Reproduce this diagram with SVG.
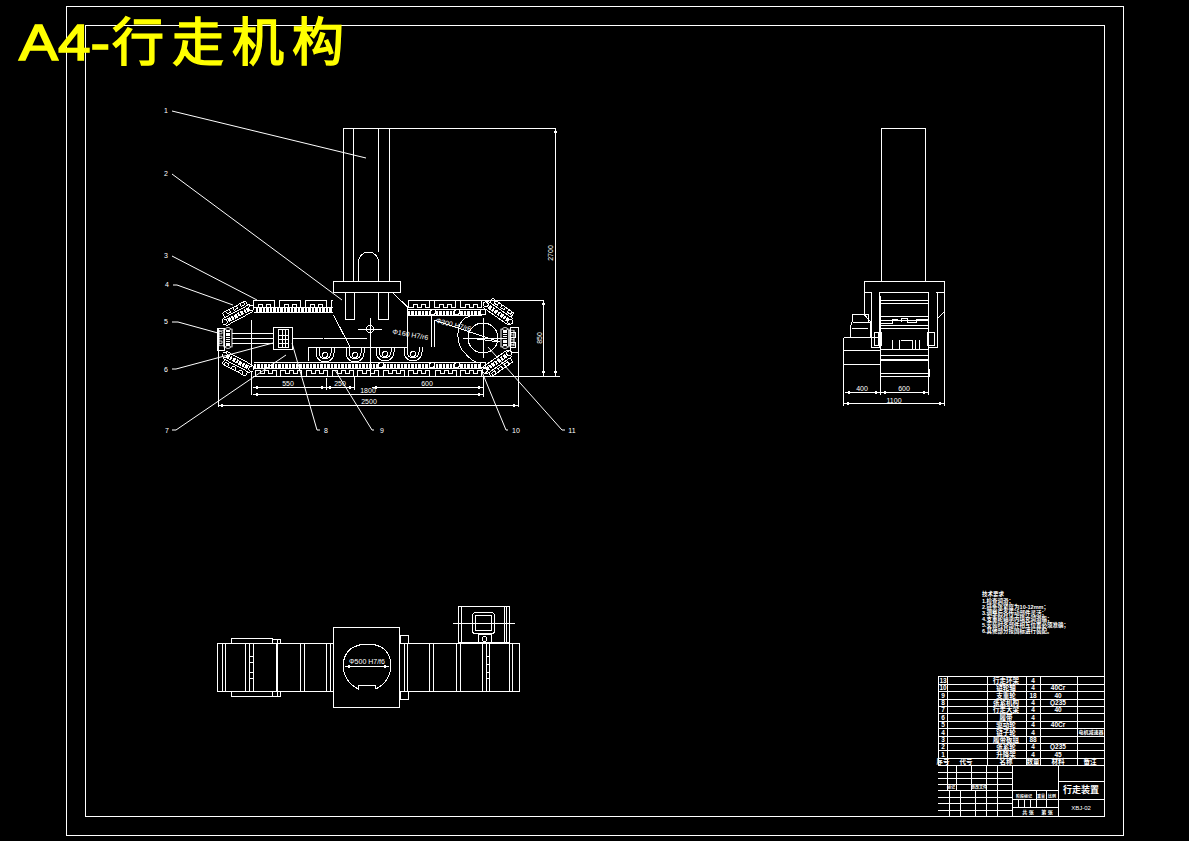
<svg xmlns="http://www.w3.org/2000/svg" width="1189" height="841" viewBox="0 0 1189 841" shape-rendering="crispEdges">
<style>
.l,.l *{fill:none;stroke:#fff;stroke-width:1}
.d{fill:none;stroke:#fff;stroke-width:4;stroke-dasharray:2 1 3 1}
.t{font-family:"Liberation Sans","Noto Sans CJK SC",sans-serif;fill:#fff;text-anchor:middle}
.s{font-size:7px}
.c{font-size:6.5px;font-weight:700}
.n{font-size:5.5px;font-weight:700;text-anchor:start}
.y{font-family:"Liberation Sans","Noto Sans CJK SC",sans-serif;fill:#ff0;stroke:#ff0;stroke-width:1.5}
</style>
<defs>
<path id="pt" d="M0 7V0H21V7H17V3.500H13V7H9V3.500H5V7Z" fill="none" stroke="#fff"/>
<path id="pb" d="M0 0V6H21V0H17V3H13V0H9V3H5V0Z" fill="none" stroke="#fff"/>
<g id="seg"><rect x="-13" y="-9" width="26" height="5" fill="none" stroke="#fff"/><path d="M-9 -9V-6H-5V-9M-1 -9V-6H3V-9M7 -9V-6H11V-9" fill="none" stroke="#fff"/><rect x="-15" y="-4" width="30" height="8" fill="none" stroke="#fff"/><line x1="-14" y1="0" x2="14" y2="0" stroke="#fff" stroke-width="4" stroke-dasharray="2 1 3 1"/><circle cx="-15" cy="0" r="2.500" fill="#000" stroke="#fff"/><circle cx="15" cy="0" r="2.500" fill="#000" stroke="#fff"/></g>
<g id="bogie"><path d="M-9 -7V-2A9 9 0 0 0 9 -2V-7" fill="none" stroke="#fff"/><path d="M-6 -7V-2A6 6 0 0 0 6 -2V-7" fill="none" stroke="#fff"/><circle r="2.500" fill="none" stroke="#fff"/></g>
<marker id="a" markerWidth="5" markerHeight="3" refX="5" refY="1.500" orient="auto-start-reverse"><path d="M0 0L5 1.500L0 3Z" fill="#fff"/></marker>
</defs>
<rect width="1189" height="841" fill="#000"/>
<g id="frame" class="l"><rect x="66.500" y="6.500" width="1057" height="829"/><rect x="85.500" y="25.500" width="1019" height="791"/></g>
<g id="title"><text class="y" x="19" y="60" font-size="50" textLength="91" lengthAdjust="spacingAndGlyphs">A4-</text><text class="y" x="112" y="61" font-size="52" letter-spacing="8">行走机构</text></g>

<g id="side-view">
<g class="l">
<path d="M343.500 281V128.500H555M353.500 128.500V281M378.500 128.500V252M389.500 128.500V281"/>
<path d="M358.500 281V262A10 10 0 0 1 378.500 262V281"/>
<rect x="333.500" y="281.500" width="67" height="11"/>
<rect x="345.500" y="292.500" width="9" height="27"/><rect x="378.500" y="292.500" width="10" height="27"/>
<path d="M333.500 315L350 347M393 293L407.500 307V347.500H308.500V361M431.500 310V347M434.500 320V347"/>
<path d="M434 320L500 342"/>
<path d="M218.500 328V407M518.500 327V407M251.500 320V395"/>
<path d="M217.500 328.500H224V350H217.500ZM518 327.500H510V352H518"/>
<path d="M510 332H515V337H510M510 342H515V347H510"/>
<path d="M253 376.500H560"/>
<rect x="273.500" y="327.500" width="19" height="22"/><rect x="278.500" y="329.500" width="10" height="18"/>
<path d="M232 333.500H273M232 338.500H273M232 343.500H273M292 338.500H323M324 338.500H367"/>
<path d="M282 330V347M285 330V347M279 335H288M279 339H288M279 343H288" stroke-width="1.500"/>
<circle cx="370" cy="329" r="3.500"/><path d="M358 329.500H382M370.500 318V376"/>
<circle cx="483" cy="338" r="15"/><path d="M483.500 318V358M463 338.500H503"/>
<path d="M470 316C455 320 456 340 462 350C468 356 470 360 476 362"/>
<path d="M470 338L499 342" stroke-width="1.500"/>
</g>
<g id="tracks">
<use href="#pt" x="253.500" y="300.500"/><use href="#pt" x="279.500" y="300.500"/><use href="#pt" x="305.500" y="300.500"/>
<path d="M331.500 307V300.500H333" class="l"/>
<use href="#pt" x="408.500" y="300.500"/><use href="#pt" x="434.500" y="300.500"/><use href="#pt" x="460.500" y="300.500"/>
<path d="M408 300.500H543" class="l"/>
<use href="#pb" x="255.500" y="370.500"/><use href="#pb" x="280.500" y="370.500"/><use href="#pb" x="306.500" y="370.500"/><use href="#pb" x="332.500" y="370.500"/><use href="#pb" x="357.500" y="370.500"/><use href="#pb" x="383.500" y="370.500"/><use href="#pb" x="408.500" y="370.500"/><use href="#pb" x="435.500" y="370.500"/><use href="#pb" x="460.500" y="370.500"/>
<path class="d" d="M256 310H333M408 312.500H482M254 365.500H482"/>
<g class="l"><path d="M254 307.500H333M254 312.500H333M408 309.500H482M408 315.500H482M254 362.500H482M254 368.500H482"/></g>
<g fill="#000" stroke="#fff"><circle cx="433" cy="312" r="2.500"/><circle cx="457" cy="312" r="2.500"/><circle cx="483" cy="312" r="3"/><circle cx="381" cy="365" r="2.500"/><circle cx="432" cy="365" r="2.500"/><circle cx="457" cy="365" r="2.500"/><circle cx="483" cy="365" r="3"/></g>
<use href="#seg" transform="translate(238 315) rotate(-28)"/>
<use href="#seg" transform="translate(238 362) rotate(208)"/>
<use href="#seg" transform="translate(498 313) rotate(35)"/>
<use href="#seg" transform="translate(497 362) rotate(145)"/>
<use href="#seg" transform="translate(228 338) rotate(-90) scale(.6 1)"/>
<use href="#seg" transform="translate(505 338) rotate(90) scale(.6 1)"/>
</g>
<use href="#bogie" x="325" y="355"/><use href="#bogie" x="355" y="355"/><use href="#bogie" x="385" y="354"/><use href="#bogie" x="413" y="354"/>
<g class="l">
<line x1="555.500" y1="128" x2="555.500" y2="376" marker-start="url(#a)" marker-end="url(#a)"/>
<line x1="543.500" y1="300" x2="543.500" y2="376" marker-start="url(#a)" marker-end="url(#a)"/>
<path d="M483 300.500H543"/>
<line x1="253" y1="387.500" x2="326" y2="387.500" marker-start="url(#a)" marker-end="url(#a)"/>
<line x1="326" y1="387.500" x2="354" y2="387.500" marker-start="url(#a)" marker-end="url(#a)"/>
<line x1="372" y1="387.500" x2="483" y2="387.500" marker-start="url(#a)" marker-end="url(#a)"/>
<line x1="253" y1="394.500" x2="483" y2="394.500" marker-start="url(#a)" marker-end="url(#a)"/>
<line x1="218" y1="405.500" x2="518" y2="405.500" marker-start="url(#a)" marker-end="url(#a)"/>
<path d="M326.500 378V390M354.500 376V390M483.500 376V397"/>
</g>
<g class="t s"><text x="288" y="386">550</text><text x="340" y="386">250</text><text x="427" y="386">600</text><text x="368" y="393">1800</text><text x="369" y="404">2500</text>
<text transform="translate(553 253) rotate(-90)">2700</text><text transform="translate(542 338) rotate(-90)">850</text>
<text transform="translate(410 337) rotate(10)">Φ160 H7/r6</text><text transform="translate(453 327) rotate(14)">Φ300 H7/r6</text></g>
</g>

<g id="leaders" class="l" shape-rendering="auto">
<path d="M172 111L366 158M172 174L342 300M172 256L257 300M173 285H177L233 305M172 322H178L218 333M172 369H176L273 343M172 430H176L286 355M320 430H317L292 343M374 430H372L335 370M508 430H506L482 372M565 430H562L488 347"/>
</g>
<g id="labels" class="t s"><text x="166" y="113">1</text><text x="166" y="176">2</text><text x="166" y="258">3</text><text x="167" y="287">4</text><text x="166" y="324">5</text><text x="166" y="372">6</text><text x="167" y="433">7</text><text x="326" y="433">8</text><text x="382" y="433">9</text><text x="516" y="433">10</text><text x="572" y="433">11</text></g>

<g id="end-view">
<g class="l">
<path d="M881.500 281V128.500H925.500V281"/>
<path d="M864.500 292V281.500H944.500V403M864.500 292.500H872M936 292.500H944"/>
<path d="M864.500 292V315L871 322M944 312L937 319"/>
<path d="M871.500 292.500V347.500H880M937.500 292.500V347.500H928"/>
<path d="M879.500 348V292.500H928.500V352"/>
<rect x="874.500" y="332.500" width="7" height="13"/><rect x="927.500" y="332.500" width="7" height="13"/>
<path d="M843.500 337.500H881M843.500 350.500H880M843.500 364.500H880M843.500 337.500V403M850 337V328L852 322V314H868V322H870V337"/>
<path d="M853 322.500H870M852 328.500H868"/>
<path d="M880 300.500H928M880 303.500H928M880 316.500H928M880 320.500H928M880 328.500H928M880 349.500H928M880 355.500H928M880 359.500H928M880 360.500H928M880 373.500H928M880 376.500H928"/>
<path d="M881 323.500H892V319.500H898M901 322V318.500H907V322H916V319.500H928M881 325.500H928"/>
<path d="M892.500 349V340M899.500 349V340M907 340.500H912.500V349M915.500 340V349M919.500 340V349M901 340.500H907"/>
<path stroke-width="2" d="M880.500 296V376M928.500 296V376M926 359.500H929M929.500 369V377"/>
<rect x="874.500" y="332.500" width="4" height="13"/>
<line x1="845" y1="392.500" x2="880" y2="392.500" marker-start="url(#a)" marker-end="url(#a)"/>
<line x1="881" y1="392.500" x2="928" y2="392.500" marker-start="url(#a)" marker-end="url(#a)"/>
<line x1="844" y1="403.500" x2="944" y2="403.500" marker-start="url(#a)" marker-end="url(#a)"/>
<path d="M880.500 376V395M928.500 376V395M843.500 385V406M944.500 395V406"/>
</g>
<g class="t s"><text x="862" y="391">400</text><text x="904" y="391">600</text><text x="894" y="403">1100</text></g>
</g>

<g id="top-view">
<g class="l">
<rect x="217.500" y="643.500" width="302" height="48"/>
<path d="M222.500 643V691M225.500 643V691M245.500 643V691M249.500 643V691M253.500 643V691M276.500 643V691M300.500 643V691M304.500 643V691M326.500 643V691M330.500 643V691M404.500 643V691M407.500 643V691M429.500 643V691M433.500 643V691M456.500 643V691M460.500 643V691M482.500 643V691M486.500 643V691M489.500 643V691M509.500 643V691M512.500 643V691"/>
<path d="M231.500 643V638.500H272.500V643M231.500 691V696.500H272.500V691M272.500 639.500H280V643M272.500 696.500H280V691M277.500 639V696"/>
<path d="M249 656.500H253M249 662.500H253M249 672.500H253M249 678.500H253M486 656.500H489M486 664.500H489M486 672.500H489M486 678.500H489"/>
<rect x="400.500" y="635.500" width="8" height="7.500"/><rect x="400.500" y="691.500" width="8" height="8"/>
<rect x="458.500" y="606.500" width="51" height="36"/>
<path d="M461.500 606.500V643M504.500 606.500V643M506.500 606.500V643"/>
<rect x="472.500" y="612.500" width="22" height="21" rx="3"/><rect x="475.500" y="615.500" width="16" height="15"/>
<path d="M453 623.500H515"/>
<rect x="478.500" y="634.500" width="13" height="9"/><circle cx="484.500" cy="639" r="2.500"/>
</g>
<g id="centre-box">
<rect x="333.500" y="627.500" width="66" height="80" fill="#000" stroke="#fff" stroke-width="1"/>
<path class="l" d="M358 689C338 678 340 653 354 647C362 643 373 643 381 647C394 654 396 678 376 689L375 685H358Z"/>
<line x1="345" y1="666.500" x2="389" y2="666.500" stroke="#fff" marker-start="url(#a)" marker-end="url(#a)"/>
<text class="t s" x="367" y="664">Φ500 H7/f6</text>
</g>
</g>

<g id="notes" class="t n">
<text x="982" y="596">技术要求</text>
<text x="982" y="603">1.检查润滑；</text>
<text x="982" y="609">2.链条张紧度为10-12mm；</text>
<text x="982" y="615">3.调整后各传动部件灵活；</text>
<text x="982" y="621">4.支重轮轴承内填充润滑脂；</text>
<text x="982" y="627">5.安装时各部件相互位置必须准确；</text>
<text x="982" y="633">6.其他部分按国标进行装配。</text>
</g>

<g id="parts-table">
<g class="l">
<rect x="938.500" y="676.500" width="166" height="89"/>
<path d="M938 684.500H1104M938 691.500H1104M938 699.500H1104M938 706.500H1104M938 713.500H1104M938 721.500H1104M938 728.500H1104M938 736.500H1104M938 743.500H1104M938 750.500H1104M938 758.500H1104"/>
<path d="M947.500 676V765M987.500 676V765M1026.500 676V765M1040.500 676V765M1077.500 676V765"/>
<path d="M938 772.500H1012.500M938 778.500H1012.500M938 784.500H1012.500M938 790.500H1012.500M938 797.500H1012.500M938 803.500H1012.500M938 810.500H1012.500"/>
<path d="M947.500 765V790M956.500 765V790M971.500 765V790M986.500 765V790M997.500 765V790M1012.500 765V816"/>
<path d="M949.500 790V816M960.500 790V816M975.500 790V816M986.500 790V816M997.500 790V816"/>
<path d="M1012 790.500H1058.500M1012 799.500H1058.500M1012 807.500H1058.500M1058.500 765V816M1058.500 781.500H1104M1058.500 799.500H1104"/>
<path d="M1036.500 790V807M1046.500 790V807M1018.500 799V807M1024.500 799V807M1030.500 799V807"/>
</g>
<g class="t c" transform="translate(0 1)">
<text x="943" y="682">13</text><text x="1006" y="682">行走环架</text><text x="1033" y="682">4</text>
<text x="943" y="689">10</text><text x="1006" y="689">链轮轴</text><text x="1033" y="689">4</text><text x="1058" y="689">40Cr</text>
<text x="943" y="697">9</text><text x="1006" y="697">支重轮</text><text x="1033" y="697">18</text><text x="1058" y="697">40</text>
<text x="943" y="704">8</text><text x="1006" y="704">张紧机构</text><text x="1033" y="704">4</text><text x="1058" y="704">Q235</text>
<text x="943" y="711">7</text><text x="1006" y="711">行走大梁</text><text x="1033" y="711">4</text><text x="1058" y="711">40</text>
<text x="943" y="719">6</text><text x="1006" y="719">履带</text><text x="1033" y="719">4</text>
<text x="943" y="726">5</text><text x="1006" y="726">驱动轮</text><text x="1033" y="726">4</text><text x="1058" y="726">40Cr</text>
<text x="943" y="734">4</text><text x="1006" y="734">链子轮</text><text x="1033" y="734">4</text><text x="1091" y="733" font-size="5">电机减速器</text>
<text x="943" y="741">3</text><text x="1006" y="741">履带板组</text><text x="1033" y="741">88</text>
<text x="943" y="748">2</text><text x="1006" y="748">张紧轮</text><text x="1033" y="748">4</text><text x="1058" y="748">Q235</text>
<text x="943" y="756">1</text><text x="1006" y="756">升降架</text><text x="1033" y="756">4</text><text x="1058" y="756">45</text>
<text x="943" y="763">序号</text><text x="966" y="763">代号</text><text x="1006" y="763">名称</text><text x="1033" y="763">数量</text><text x="1058" y="763">材料</text><text x="1090" y="763">备注</text>
<text x="951" y="788" font-size="4">标记</text><text x="979" y="788" font-size="4">更改文件</text>
<text x="1024" y="797" font-size="4">阶段标记</text><text x="1041" y="797" font-size="4">重量</text><text x="1052" y="797" font-size="4">比例</text>
<text x="1028" y="813" font-size="5">共 张</text><text x="1047" y="813" font-size="5">第 张</text>
</g>
<text class="t" x="1081" y="793" font-size="9" font-weight="700">行走装置</text>
<text class="t" x="1081" y="810" font-size="6">XBJ-02</text>
</g>
</svg>
